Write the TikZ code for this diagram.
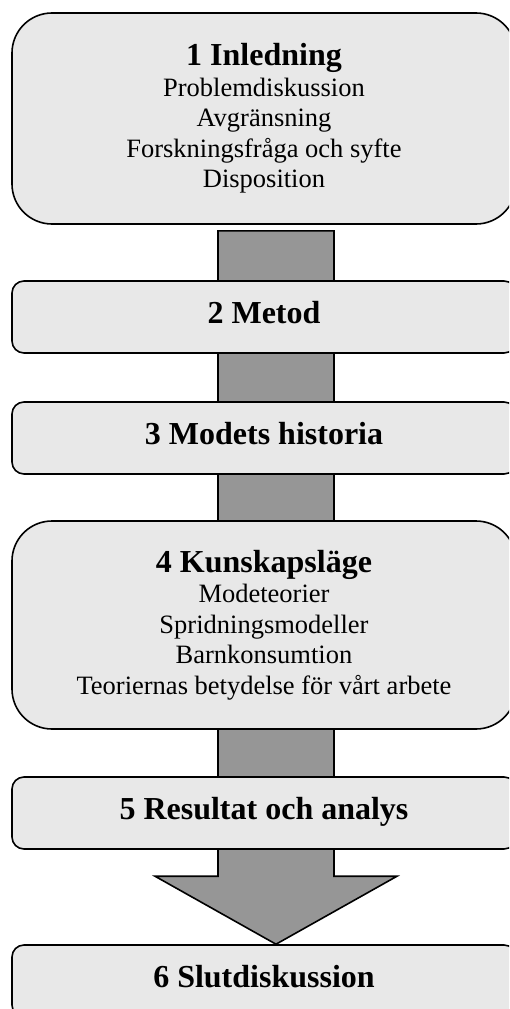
\documentclass[tikz,border=0pt]{standalone}
\usepackage{fontspec}
\setmainfont{Liberation Serif}
\usetikzlibrary{calc,backgrounds}
\definecolor{boxgray}{RGB}{232,232,232}
\definecolor{shaftgray}{RGB}{150,150,150}
\begin{document}
\begin{tikzpicture}[x=1pt,y=-1pt,
  box/.style={draw=black, line width=1.6pt, fill=boxgray, minimum width=504pt,
    inner sep=0pt, align=center, font=\fontsize{26.5}{30.5}\selectfont},
  bigbox/.style={box, rounded corners=40pt},
  smallbox/.style={box, rounded corners=12pt, minimum height=72pt,
    text height=22pt, text depth=10pt, font=\bfseries\fontsize{32}{30.5}\selectfont},
  ttl/.style={font=\bfseries\fontsize{32}{30.5}\selectfont},
  flow/.style={draw=black, line width=1.6pt, fill=shaftgray, line join=miter}]
\useasboundingbox (0,0) rectangle (509,1009);
\clip (0,0) rectangle (509,1009);

\node[bigbox, minimum height=211pt] (b1) at (264,118.5)
  {{\bfseries\fontsize{32}{30.5}\selectfont 1 Inledning}\\Problemdiskussion\\Avgränsning\\Forskningsfråga och syfte\\Disposition};
\node[smallbox] (b2) at (264,317) {2 Metod};
\node[smallbox] (b3) at (264,438) {3 Modets historia};
\node[bigbox, minimum height=208pt] (b4) at (264,625)
  {{\bfseries\fontsize{32}{30.5}\selectfont 4 Kunskapsläge}\\Modeteorier\\Spridningsmodeller\\Barnkonsumtion\\Teoriernas betydelse för vårt arbete};
\node[smallbox] (b5) at (264,813) {5 Resultat och analys};
\node[smallbox] (b6) at (264,981) {6 Slutdiskussion};

\coordinate (atop) at ([xshift=12pt,yshift=-6pt]b1.south);
\coordinate (tip) at ([xshift=12pt]b6.north);

\begin{scope}[on background layer]
\draw[flow] ($(atop)+(-58,0)$) -- ($(atop)+(58,0)$) -- ($(tip)+(58,-68)$)
  -- ($(tip)+(121,-68)$) -- (tip) -- ($(tip)+(-121,-68)$)
  -- ($(tip)+(-58,-68)$) -- cycle;
\end{scope}
\end{tikzpicture}
\end{document}
